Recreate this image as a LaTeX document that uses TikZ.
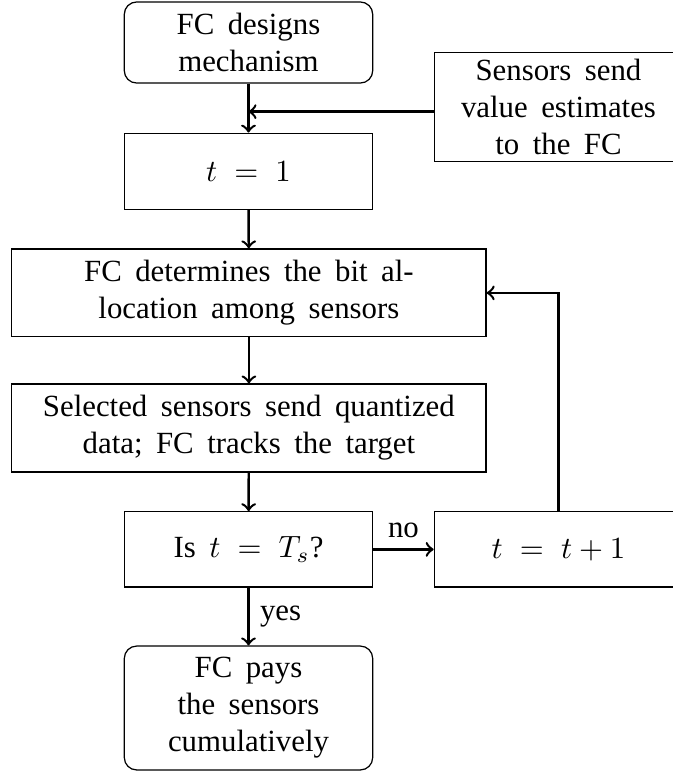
\documentclass[tikz,border=0pt]{standalone}
\usepackage{fontspec}
\setmainfont{Liberation Serif}[WordSpace=1.75]
\begin{document}
\begin{tikzpicture}[x=0.3245pt, y=-0.3245pt,
        block/.style={draw, align=center, minimum width=80.6pt, inner sep=2pt},
        wide/.style={block, minimum width=153.9pt, minimum height=28.5pt},
        term/.style={block, rounded corners=4pt},
        flow/.style={->, thick}]
        \clip (0,0) rectangle (673,773);

        \node[term, minimum height=26.3pt] (design) at (248.5,42.5) {FC designs\\mechanism};
        \node[block, minimum height=35.4pt] (sensors) at (558.5,106.7) {Sensors send\\value estimates\\to the FC};
        \node[block, minimum height=24.7pt] (tone) at (248.5,171.3) {$t\;=\;1$};
        \node[wide] (alloc) at (248.9,292.9) {FC determines the bit al-\\location among sensors};
        \node[wide] (select) at (248.9,428) {Selected sensors send quantized\\data; FC tracks the target};
        \node[block, minimum height=24.4pt] (check) at (248.5,549.4) {Is $t\;=\;T_s$?};
        \node[block, minimum height=24.4pt] (incr) at (558.5,549.4) {$t\;=\;t+1$};
        \node[term, minimum height=40.2pt] (pay) at (248.5,708) {FC pays\\the sensors\\cumulatively};

        \coordinate (feed) at ([yshift=-1.6pt]sensors.west);
        \draw[flow] (design) -- (tone);
        \draw[flow] (feed) -- (feed -| design);
        \draw[flow] (tone) -- (alloc);
        \draw[flow] (alloc) -- (select);
        \draw[flow] (select) -- (check);
        \draw[flow] (check) -- node[above] {no} (incr);
        \draw[flow] (check) -- node[right] {yes} (pay);
        \draw[flow] (incr) |- (alloc);
    \end{tikzpicture}
\end{document}
